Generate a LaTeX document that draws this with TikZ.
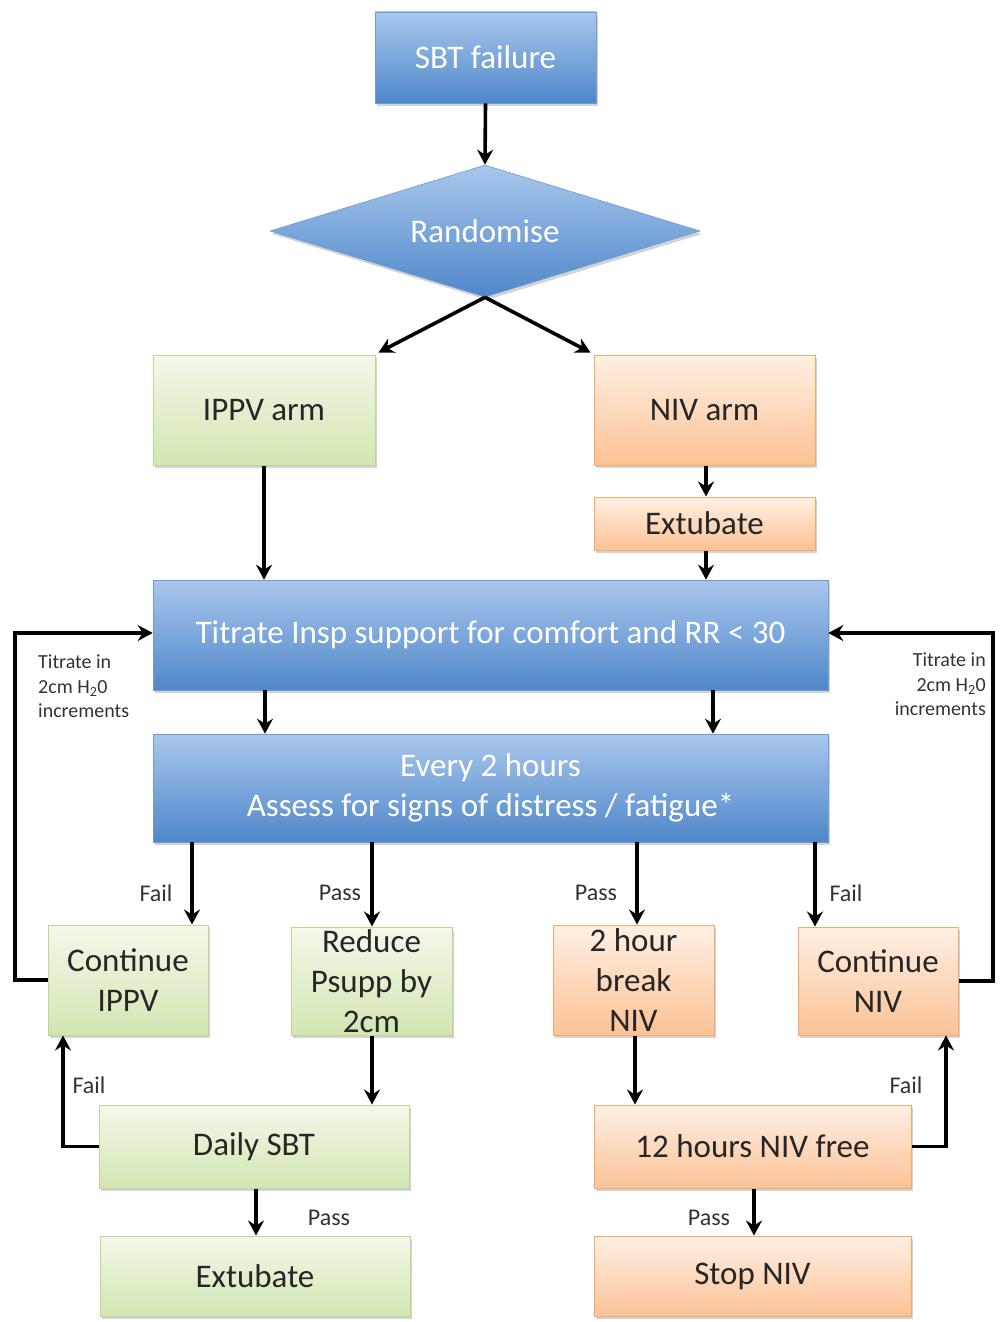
\documentclass[tikz,border=0pt]{standalone}
\usepackage{fontspec}
\setmainfont{Carlito}
\usetikzlibrary{shapes.geometric,arrows.meta,shadows,calc}
\definecolor{bluetop}{HTML}{A9C7EC}
\definecolor{bluebot}{HTML}{4F87CA}
\definecolor{blueline}{HTML}{6F9CD4}
\definecolor{greentop}{HTML}{F3F8EA}
\definecolor{greenbot}{HTML}{D3E6B2}
\definecolor{greenline}{HTML}{BFD796}
\definecolor{orangetop}{HTML}{FEF0E4}
\definecolor{orangebot}{HTML}{FBC295}
\definecolor{orangeline}{HTML}{F6A868}
\tikzset{
  base/.style={rectangle, inner sep=0pt, align=center, font=\fontsize{33}{40}\selectfont,
    drop shadow={opacity=0.35, shadow xshift=2pt, shadow yshift=-3pt}},
  bluebox/.style={base, draw=blueline, line width=0.6pt, top color=bluetop, bottom color=bluebot, text=white},
  greenbox/.style={base, draw=greenline, line width=1pt, top color=greentop, bottom color=greenbot, text=black!85},
  orangebox/.style={base, draw=orangeline, line width=1pt, top color=orangetop, bottom color=orangebot, text=black!85},
  arr/.style={line width=3.6pt, line join=miter, -{Stealth[length=15pt,width=16pt,inset=5pt]}},
  lab/.style={font=\fontsize{24}{28}\selectfont, text=black!80, inner sep=0pt},
  note/.style={font=\fontsize{20}{24.5}\selectfont, text=black!80, inner sep=0pt}
}
\begin{document}
\begin{tikzpicture}[x=1pt,y=-1pt]
\useasboundingbox (0,0) rectangle (1000,1322);
% nodes
\node[bluebox, minimum width=221, minimum height=91] (sbt) at (485.5,57.5) {SBT failure};
\node[diamond, aspect=3.26, inner sep=0pt, minimum width=430, minimum height=132,
      draw=blueline, line width=0.6pt, top color=bluetop, bottom color=bluebot, text=white,
      font=\fontsize{33}{40}\selectfont,
      drop shadow={opacity=0.35, shadow xshift=2pt, shadow yshift=-3pt}] (rand) at (485,231) {Randomise};
\node[greenbox, minimum width=222, minimum height=110] (ippv) at (264,410) {IPPV arm};
\node[orangebox, minimum width=221, minimum height=110] (nivarm) at (704.5,410) {NIV arm};
\node[orangebox, minimum width=221, minimum height=53] (extA) at (704.5,523.5) {Extubate};
\node[bluebox, minimum width=675, minimum height=110] (titrate) at (490.5,635) {Titrate Insp support for comfort and RR < 30};
\node[bluebox, minimum width=675, minimum height=108] (every) at (490.5,788) {Every 2 hours\\Assess for signs of distress / fatigue*};
\node[greenbox, minimum width=160, minimum height=110] (contippv) at (128,980) {Continue\\IPPV};
\node[greenbox, minimum width=161, minimum height=108] (reduce) at (371.5,981) {Reduce\\Psupp by\\2cm};
\node[orangebox, minimum width=161, minimum height=110] (twohour) at (633.5,980) {2 hour\\break\\NIV};
\node[orangebox, minimum width=160, minimum height=108] (contniv) at (878,981) {Continue\\NIV};
\node[greenbox, minimum width=310, minimum height=83] (daily) at (254,1146.5) {Daily SBT};
\node[greenbox, minimum width=310, minimum height=80] (extB) at (255,1276) {Extubate};
\node[orangebox, minimum width=317, minimum height=83] (twelve) at (752.5,1146.5) {12 hours NIV free};
\node[orangebox, minimum width=317, minimum height=80] (stopniv) at (752.5,1276) {Stop NIV};
% notes
\node[note, align=left, anchor=north west] (noteL) at (38,655) {Titrate in\\2cm H\textsubscript{2}0\\increments};
\node[note, align=right, anchor=north east] (noteR) at (986,653) {Titrate in\\2cm H\textsubscript{2}0\\increments};
% labels
\node[lab] (l1) at (156,893) {Fail};
\node[lab] (l2) at (340,893) {Pass};
\node[lab] (l3) at (596,893) {Pass};
\node[lab] (l4) at (846,893) {Fail};
\node[lab] (l5) at (89,1085) {Fail};
\node[lab] (l6) at (329,1218) {Pass};
\node[lab] (l7) at (906,1085) {Fail};
\node[lab] (l8) at (709,1218) {Pass};
% coordinates for bends
\coordinate (bl1) at (15,980);
\coordinate (bl2) at (15,633);
\coordinate (br1) at (993,981);
\coordinate (br2) at (993,633);
% connectors
\draw[arr] (sbt.south) -- (rand.north);
\draw[arr] (rand.south) -- ($(ippv.north east)+(3,-2)$);
\draw[arr] (rand.south) -- ($(nivarm.north west)+(-3,-2)$);
\draw[arr] (ippv.south) -- (ippv.south |- titrate.north);
\draw[arr] (nivarm.south -| 706,0) -- (706,0 |- extA.north);
\draw[arr] (extA.south -| 706,0) -- (706,0 |- titrate.north);
\draw[arr] (265,0 |- titrate.south) -- (265,0 |- every.north);
\draw[arr] (713,0 |- titrate.south) -- (713,0 |- every.north);
\draw[arr] (192,0 |- every.south) -- (192,0 |- contippv.north);
\draw[arr] (372,0 |- every.south) -- (372,0 |- reduce.north);
\draw[arr] (637,0 |- every.south) -- (637,0 |- twohour.north);
\draw[arr] (815,0 |- every.south) -- (815,0 |- contniv.north);
\draw[arr] (contippv.west) -- (bl1) -- (bl2) -- (titrate.west |- bl2);
\draw[arr] (contniv.east) -- (br1) -- (br2) -- (titrate.east |- br2);
\draw[arr] (372,0 |- reduce.south) -- (372,0 |- daily.north);
\draw[arr] (daily.west) -- (63,0 |- daily.west) -- (63,0 |- contippv.south);
\draw[arr] (256,0 |- daily.south) -- (256,0 |- extB.north);
\draw[arr] (635,0 |- twohour.south) -- (635,0 |- twelve.north);
\draw[arr] (twelve.east) -- (946,0 |- twelve.east) -- (946,0 |- contniv.south);
\draw[arr] (754,0 |- twelve.south) -- (754,0 |- stopniv.north);
\end{tikzpicture}
\end{document}
